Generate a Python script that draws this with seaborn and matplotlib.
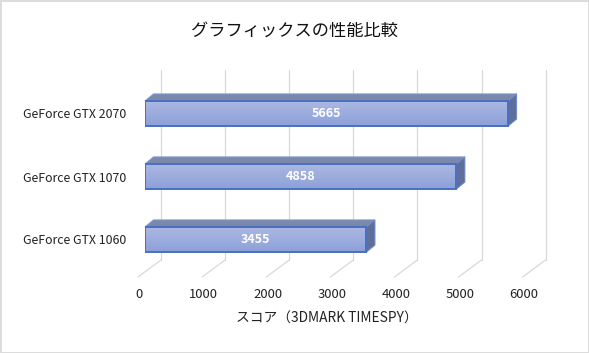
import numpy as np
import matplotlib
matplotlib.use("Agg")
import matplotlib.pyplot as plt
import matplotlib.transforms as mtrans
from matplotlib.patches import Polygon
import pandas as pd
import seaborn as sns

sns.set_style("white")
plt.rcParams['font.family'] = ['Noto Sans CJK JP', 'DejaVu Sans']

# data
gpus = ['GeForce GTX 2070', 'GeForce GTX 1070', 'GeForce GTX 1060']
scores = [5665, 4858, 3455]
x_ticks = [0, 1000, 2000, 3000, 4000, 5000, 6000]
title = 'グラフィックスの性能比較'
x_label = 'スコア（3DMARK TIMESPY）'

df = pd.DataFrame({'gpu': gpus, 'score': scores})

W, H = 589, 353
# plot area in pixels
left, right = 145, 529.6
top, bottom = 82, 271

fig = plt.figure(figsize=(W / 100, H / 100), dpi=100)
fig.patch.set_edgecolor('#dcdcdc')
fig.patch.set_linewidth(1.8)
ax = fig.add_axes([left / W, 1 - bottom / H, (right - left) / W, (bottom - top) / H])

sns.barplot(data=df, y='gpu', x='score', ax=ax, width=0.4, color='#9fb0df',
            edgecolor='#4a6fbe', linewidth=1.4, saturation=1)
ax.set_xlim(0, 6000)
ax.set_ylim(2.5, -0.5)

# pixel -> data factors for the fake 3D depth
px_x = 6000 / (right - left)
px_y = 3 / (bottom - top)
wall_dx, wall_top, wall_bot = 16 * px_x, -0.5 - 12 * px_y, 2.5 - 11 * px_y
floor_dx, floor_bot = -7 * px_x, 2.5 + 6 * px_y

# walls / floor gridlines
for t in x_ticks:
    ax.plot([t + wall_dx, t + wall_dx], [wall_top, wall_bot], color='#d9d9d9', lw=0.9,
            clip_on=False, zorder=0.5)
    ax.plot([t + wall_dx, t + floor_dx], [wall_bot, floor_bot], color='#d9d9d9', lw=0.9,
            clip_on=False, zorder=0.5)

# bars: gradient front, top and side faces
grad = np.linspace(0, 1, 64).reshape(-1, 1, 1)
c1 = np.array(matplotlib.colors.to_rgb('#adb9e3'))
c2 = np.array(matplotlib.colors.to_rgb('#8ca0d9'))
img = c1 + (c2 - c1) * grad
dx, dy = 8.5 * px_x, 7 * px_y
bars = list(ax.containers[0])
for p in bars:
    x0, w = p.get_x(), p.get_width()
    y0, h = p.get_y(), p.get_height()
    p.set_facecolor('none')
    p.set_zorder(4)
    im = ax.imshow(img, extent=[x0, x0 + w, y0 + h, y0], aspect='auto', zorder=3)
    im.set_clip_path(p)
    ax.add_patch(Polygon([(x0, y0), (x0 + dx, y0 - dy), (x0 + w + dx, y0 - dy), (x0 + w, y0)],
                         closed=True, facecolor='#7a89ab', edgecolor='#7f9bd6', lw=0.7,
                         zorder=2, clip_on=False))
    ax.add_patch(Polygon([(x0 + w, y0), (x0 + w + dx, y0 - dy), (x0 + w + dx, y0 + h - dy), (x0 + w, y0 + h)],
                         closed=True, facecolor='#5f6f9c', edgecolor='#6f8cc8', lw=0.7,
                         zorder=2, clip_on=False))
ax.set_xlim(0, 6000)
ax.set_ylim(2.5, -0.5)

ax.bar_label(ax.containers[0], label_type='center', color='white', fontsize=9,
             fontweight='bold', zorder=6)

sns.despine(ax=ax, left=True, bottom=True)
ax.set_xticks(x_ticks)
ax.set_ylabel('')
ax.set_xlabel('')
ax.tick_params(axis='both', length=0, colors='#222222')
ax.tick_params(axis='x', pad=12, labelsize=9.4)
ax.tick_params(axis='y', pad=13.7, labelsize=8.9)
shift = mtrans.ScaledTranslation(-5.5 / 100, 0, fig.dpi_scale_trans)
for lab in ax.get_xticklabels():
    lab.set_transform(lab.get_transform() + shift)

fig.text(294 / W, 1 - 31 / H, title, ha='center', va='center', fontsize=12.4, color='#111111')
fig.text(326.5 / W, 1 - 319 / H, x_label, ha='center', va='center', fontsize=9.9, color='#222222')

fig.savefig('out.png', dpi=100, edgecolor=fig.get_edgecolor())
